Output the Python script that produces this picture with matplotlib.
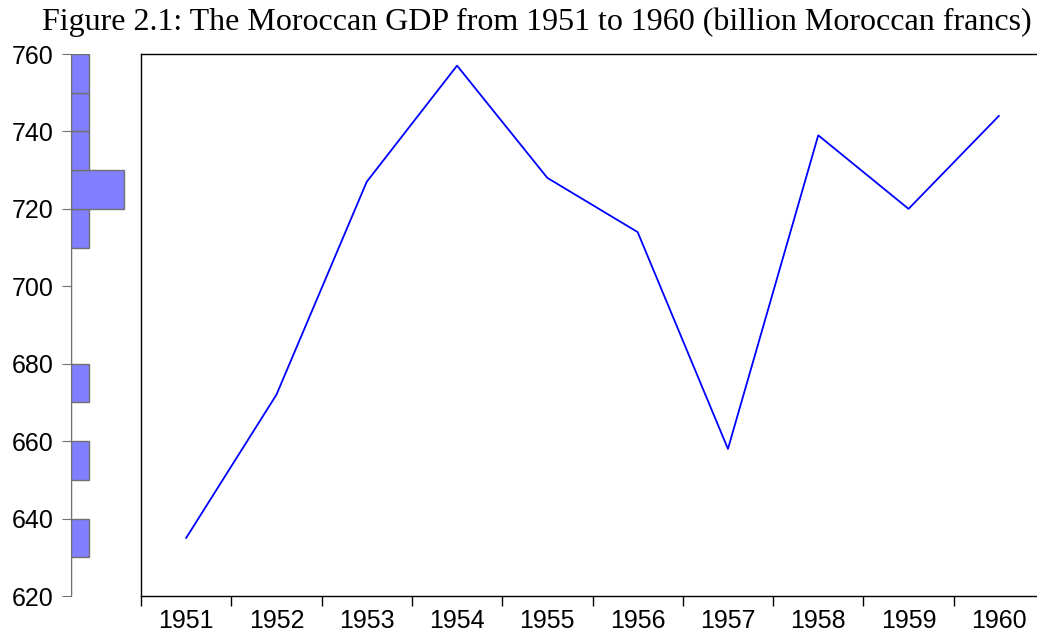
import numpy as np
import matplotlib.pyplot as plt

years = [1951, 1952, 1953, 1954, 1955, 1956, 1957, 1958, 1959, 1960]
gdp = [635, 672, 727, 757, 728, 714, 658, 739, 720, 744]
bins = np.arange(620, 770, 10)
yticks = [620, 640, 660, 680, 700, 720, 740, 760]

fig = plt.figure(figsize=(10.37, 6.36), dpi=100)

# main line plot
ax = fig.add_axes([141/1037, 1 - 596/636, 903/1037, 542/636])
ax.plot(years, gdp, color='#0000ff', lw=1.3)
ax.set_xlim(1950.5, 1960.5)
ax.set_ylim(620, 760)
ax.set_yticks([])
ax.set_xticks(years)
ax.set_xticklabels([str(y) for y in years], fontsize=18, family='Liberation Sans')
ax.set_xticks(np.arange(1950.5, 1961, 1), minor=True)
ax.tick_params(axis='x', which='major', length=0, pad=9)
ax.tick_params(axis='x', which='minor', length=7, width=1, direction='out')
for s in ['left', 'bottom', 'top', 'right']:
    ax.spines[s].set_linewidth(1.0)

# marginal histogram
hx = fig.add_axes([71/1037, 1 - 596/636, 60/1037, 542/636])
hx.hist(gdp, bins=bins, orientation='horizontal', color='#8080ff',
        edgecolor='#707070', linewidth=1.0)
hx.set_xlim(0, 3.4)
hx.set_ylim(620, 760)
hx.set_yticks(yticks)
hx.set_yticklabels([str(t) for t in yticks], fontsize=18, family='Liberation Sans')
hx.set_xticks([])
for s in ['right', 'top', 'bottom']:
    hx.spines[s].set_visible(False)
hx.spines['left'].set_color('#707070')
hx.tick_params(axis='y', length=6.5, color='#707070', pad=6)
hx.patch.set_visible(False)

fig.text(537/1037, 1 - 30/636, 'Figure 2.1: The Moroccan GDP from 1951 to 1960 (billion Moroccan francs)',
         ha='center', va='baseline', fontsize=23, family='Liberation Serif')

fig.savefig('out.png', dpi=100)
